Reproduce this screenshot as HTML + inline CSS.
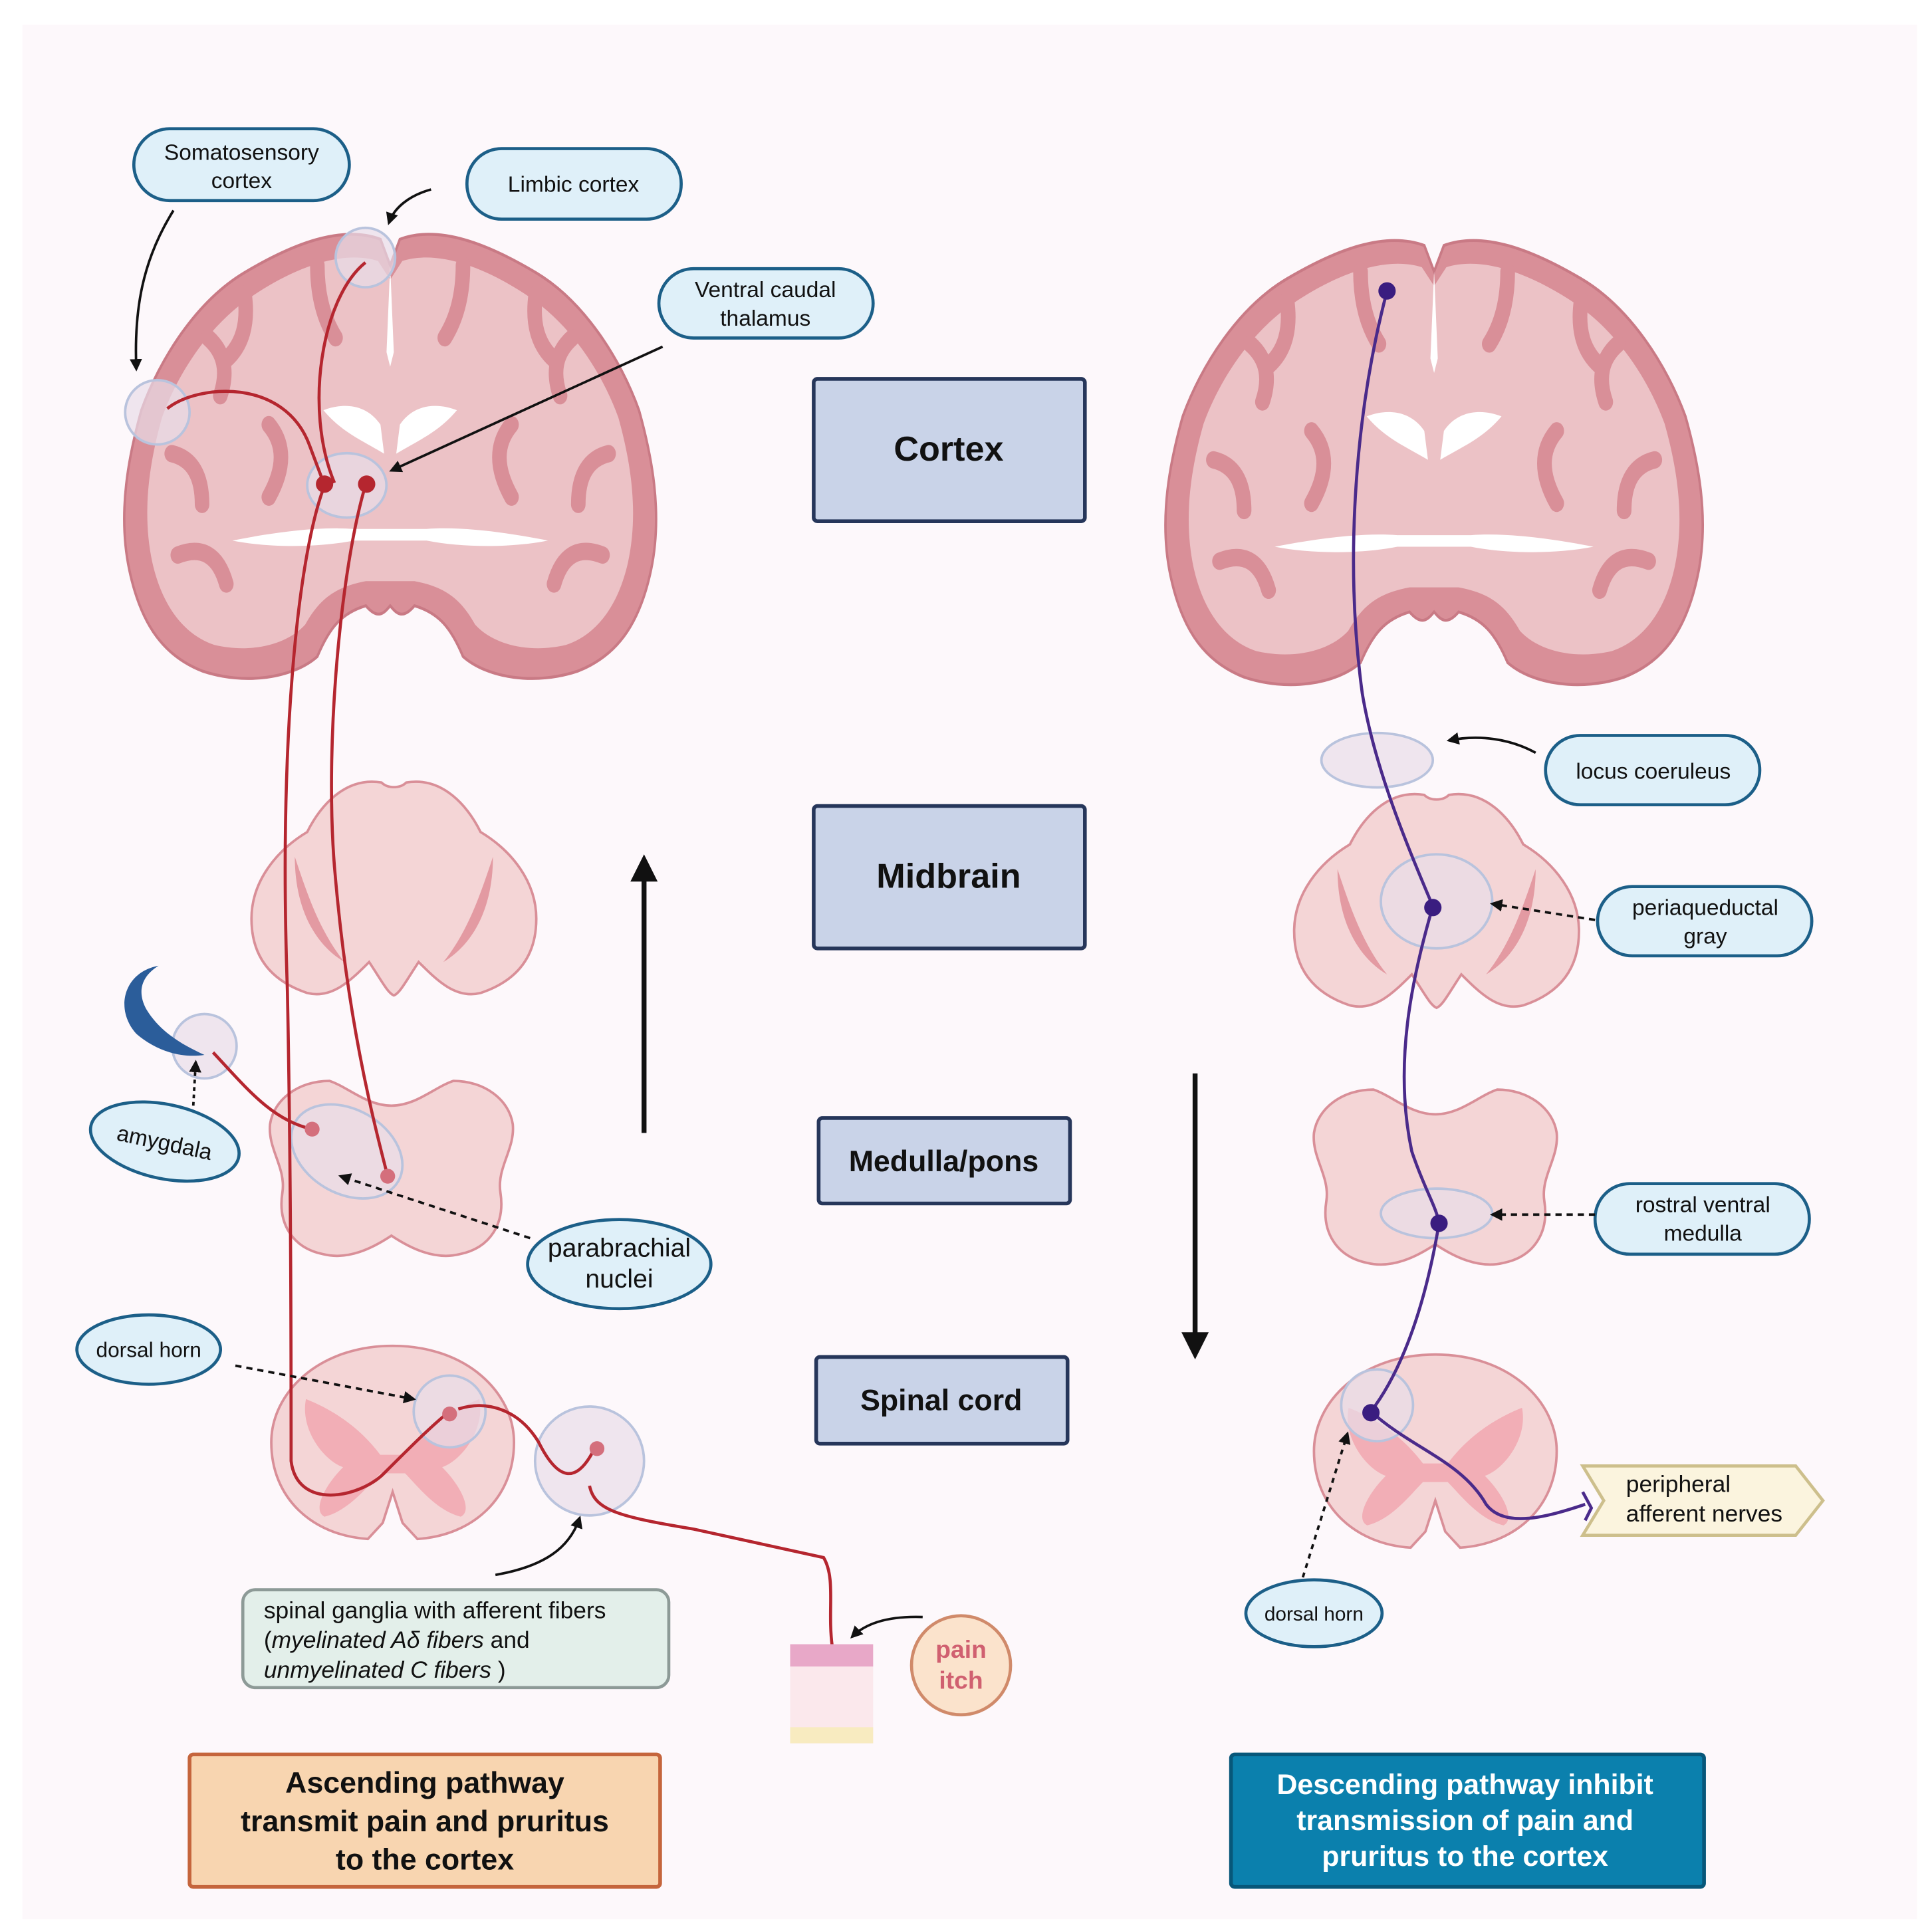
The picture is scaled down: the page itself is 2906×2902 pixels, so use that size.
<!DOCTYPE html>
<html><head><meta charset="utf-8"><style>
html,body{margin:0;padding:0;background:#fff}
svg{display:block}
text{font-family:"Liberation Sans",sans-serif}
</style></head><body>
<svg width="2906" height="2902" viewBox="0 0 1560 1558" xmlns="http://www.w3.org/2000/svg">
<defs>
<marker id="ah" viewBox="0 0 10 10" refX="8" refY="5" markerWidth="5" markerHeight="5" orient="auto-start-reverse"><path d="M0,0L10,5L0,10z" fill="#111"/></marker>
<g id="brain">
<path d="M-8,-128 C-40,-138 -80,-125 -120,-105 C-160,-85 -190,-45 -205,-10 C-215,20 -225,60 -215,100 C-205,140 -185,160 -155,170 C-120,180 -80,175 -60,160 C-50,140 -40,130 -20,125 C-10,135 -5,130 0,125 C5,130 10,135 20,125 C40,130 50,140 60,160 C80,175 120,180 155,170 C185,160 205,140 215,100 C225,60 215,20 205,-10 C190,-45 160,-85 120,-105 C80,-125 40,-138 8,-128 L0,-110 Z" fill="#d98f98" stroke="#c97a85" stroke-width="2"/>
<path d="M-10,-113 C-40,-121 -80,-108 -115,-88 C-150,-68 -175,-35 -188,-5 C-198,25 -205,60 -196,95 C-188,125 -170,145 -145,152 C-115,158 -85,152 -70,138 C-58,120 -45,112 -20,108 L20,108 C45,112 58,120 70,138 C85,152 115,158 145,152 C170,145 188,125 196,95 C205,60 198,25 188,-5 C175,-35 150,-68 115,-88 C80,-108 40,-121 10,-113 L0,-100 Z" fill="#ecc2c6"/>
<path d="M-150,-60 q20,15 10,40 M-180,20 q25,5 25,35 M-120,-90 q5,30 -15,45 M-60,-110 q0,30 15,50 M150,-60 q-20,15 -10,40 M180,20 q-25,5 -25,35 M120,-90 q-5,30 15,45 M60,-110 q0,30 -15,50 M-175,90 q30,-10 40,20 M175,90 q-30,-10 -40,20 M-100,0 q20,20 0,50 M100,0 q-20,20 0,50" stroke="#d98f98" stroke-width="12" fill="none" stroke-linecap="round"/>
<path d="M-55,-10 C-40,-15 -20,-15 -8,0 L-5,20 C-25,10 -40,5 -55,-10Z M55,-10 C40,-15 20,-15 8,0 L5,20 C25,10 40,5 55,-10Z" fill="#fff"/>
<path d="M0,-110 L-3,-50 L0,-40 L3,-50Z" fill="#fff"/>
<path d="M-130,80 C-100,75 -60,70 -30,72 L30,72 C60,70 100,75 130,80 C100,85 60,85 30,80 L-30,80 C-60,85 -100,85 -130,80Z" fill="#fff"/>
</g>
<g id="mid">
<path d="M-10,-90 C-40,-95 -60,-70 -70,-50 C-95,-35 -115,-10 -115,20 C-115,50 -100,70 -70,80 C-50,85 -35,70 -20,55 C-10,70 -5,80 0,82 C5,80 10,70 20,55 C35,70 50,85 70,80 C100,70 115,50 115,20 C115,-10 95,-35 70,-50 C60,-70 40,-95 10,-90 C5,-85 -5,-85 -10,-90Z" fill="#f4d5d6" stroke="#d98f98" stroke-width="2"/>
<path d="M-80,-30 C-80,10 -65,40 -40,55 C-60,30 -70,0 -80,-30Z M80,-30 C80,10 65,40 40,55 C60,30 70,0 80,-30Z" fill="#e39aa2"/>
</g>
<g id="med">
<path d="M-50,-75 C-75,-75 -95,-60 -98,-40 C-100,-20 -85,-5 -88,15 C-92,40 -80,60 -55,65 C-35,70 -15,60 0,50 C15,60 35,70 55,65 C80,60 92,40 88,15 C85,-5 100,-20 98,-40 C95,-60 75,-75 50,-75 C35,-70 20,-55 0,-55 C-20,-55 -35,-70 -50,-75Z" fill="#f4d5d6" stroke="#d98f98" stroke-width="2"/>
</g>
<g id="sc">
<path d="M0,-78 C-60,-78 -98,-40 -98,0 C-98,45 -65,75 -20,78 L-8,65 L0,40 L8,65 L20,78 C65,75 98,45 98,0 C98,-40 60,-78 0,-78Z" fill="#f4d5d6" stroke="#d98f98" stroke-width="2"/>
<path d="M-70,-35 C-45,-25 -25,-10 -10,10 L10,10 C25,-10 45,-25 70,-35 C75,-10 55,15 40,20 C55,35 65,55 55,60 C35,55 20,35 10,25 L-10,25 C-20,35 -35,55 -55,60 C-65,55 -55,35 -40,20 C-55,15 -75,-10 -70,-35Z" fill="#f2aeb6"/>
</g>
</defs>
<rect x="0" y="0" width="1560" height="1558" fill="#fff"/>
<rect x="18" y="20" width="1530" height="1530" fill="#fdf8fb"/>

<use href="#brain" transform="translate(315,343) scale(0.98,1.17)"/>
<use href="#mid" transform="translate(318,722)"/>
<use href="#med" transform="translate(316,948)"/>
<use href="#sc" transform="translate(317,1165)"/>
<use href="#brain" transform="translate(1158,348) scale(0.99,1.17)"/>
<use href="#mid" transform="translate(1160,732)"/>
<use href="#med" transform="translate(1159,955)"/>
<use href="#sc" transform="translate(1159,1172)"/>

<g fill="#e8dde8" fill-opacity="0.7" stroke="#b9c3dd" stroke-width="2">
<circle cx="295" cy="208" r="24"/><circle cx="127" cy="333" r="26"/>
<ellipse cx="280" cy="392" rx="32" ry="26"/>
<circle cx="165" cy="845" r="26"/>
<ellipse cx="280" cy="930" rx="48" ry="34" transform="rotate(30 280 930)"/>
<circle cx="363" cy="1140" r="29"/><circle cx="476" cy="1180" r="44"/>
</g>
<path d="M128,780 C100,785 92,815 110,835 C125,848 145,855 165,852 C150,845 130,835 118,815 C110,800 115,788 128,780Z" fill="#2b5d9a"/>
<g stroke="#b5262f" stroke-width="2.5" fill="none">
<path d="M295,212 C260,240 245,330 270,390"/>
<path d="M135,330 C160,310 230,305 250,360 L262,392"/>
<path d="M262,392 C240,450 225,600 232,800 C235,950 235,1100 235,1180 C240,1220 290,1210 310,1190 C330,1170 350,1150 363,1140"/>
<path d="M295,392 C275,460 262,600 270,700 C280,820 300,900 313,950"/>
<path d="M172,850 C200,880 220,905 252,912"/>
<path d="M370,1138 C395,1130 420,1140 435,1165 C450,1195 465,1200 480,1170 M476,1200 C480,1220 500,1225 560,1235 L665,1258 C675,1275 668,1300 672,1330"/>
</g>
<g fill="#b5262f"><circle cx="262" cy="391" r="7"/><circle cx="296" cy="391" r="7"/></g>
<g fill="#d46f7c"><circle cx="252" cy="912" r="6"/><circle cx="313" cy="950" r="6"/><circle cx="363" cy="1142" r="6"/><circle cx="482" cy="1170" r="6"/></g>

<g fill="#e8dde8" fill-opacity="0.7" stroke="#b9c3dd" stroke-width="2">
<ellipse cx="1112" cy="614" rx="45" ry="22"/>
<ellipse cx="1160" cy="728" rx="45" ry="38"/>
<ellipse cx="1160" cy="980" rx="45" ry="20"/>
<circle cx="1112" cy="1135" r="29"/>
</g>
<g stroke="#4a2a8a" stroke-width="2.5" fill="none">
<path d="M1120,235 C1095,330 1085,450 1100,560 C1110,620 1135,680 1157,732"/>
<path d="M1157,732 C1140,790 1125,860 1140,930 C1150,960 1160,975 1162,988"/>
<path d="M1162,988 C1150,1060 1130,1110 1107,1140"/>
<path d="M1107,1140 C1140,1170 1180,1180 1200,1215 C1215,1235 1250,1225 1280,1215"/>
<path d="M1278,1205 L1285,1218 L1280,1228"/>
</g>
<g fill="#3a1d80"><circle cx="1120" cy="235" r="7"/><circle cx="1157" cy="733" r="7"/><circle cx="1162" cy="988" r="7"/><circle cx="1107" cy="1141" r="7"/></g>

<rect x="638" y="1328" width="67" height="80" fill="#fbe8ec"/>
<rect x="638" y="1328" width="67" height="18" fill="#e8a8c8"/>
<rect x="638" y="1395" width="67" height="13" fill="#f8ebc0"/>

<g fill="#c9d3e8" stroke="#26365a" stroke-width="3">
<rect x="657" y="306" width="219" height="115" rx="3"/>
<rect x="657" y="651" width="219" height="115" rx="3"/>
<rect x="661" y="903" width="203" height="69" rx="3"/>
<rect x="659" y="1096" width="203" height="70" rx="3"/>
</g>
<g font-weight="bold" text-anchor="middle" fill="#111">
<text x="766" y="372" font-size="28">Cortex</text>
<text x="766" y="717" font-size="28">Midbrain</text>
<text x="762" y="946" font-size="24">Medulla/pons</text>
<text x="760" y="1139" font-size="24">Spinal cord</text>
</g>
<line x1="520" y1="915" x2="520" y2="705" stroke="#111" stroke-width="4"/>
<path d="M509,712 L520,690 L531,712Z" fill="#111"/>
<line x1="965" y1="867" x2="965" y2="1080" stroke="#111" stroke-width="4"/>
<path d="M954,1076 L965,1098 L976,1076Z" fill="#111"/>

<g fill="#dff0f9" stroke="#1c5f88" stroke-width="2.5">
<rect x="108" y="104" width="174" height="58" rx="29"/>
<rect x="377" y="120" width="173" height="57" rx="28"/>
<rect x="532" y="217" width="173" height="56" rx="28"/>
<ellipse cx="133" cy="922" rx="61" ry="30" transform="rotate(12 133 922)"/>
<ellipse cx="500" cy="1021" rx="74" ry="36"/>
<ellipse cx="120" cy="1090" rx="58" ry="28"/>
<rect x="1248" y="594" width="173" height="56" rx="28"/>
<rect x="1290" y="716" width="173" height="56" rx="28"/>
<rect x="1288" y="956" width="173" height="57" rx="28"/>
<ellipse cx="1061" cy="1303" rx="55" ry="27"/>
</g>
<rect x="196" y="1284" width="344" height="79" rx="10" fill="#e3efea" stroke="#8d9a97" stroke-width="2.5"/>
<circle cx="776" cy="1345" r="40" fill="#fbe3cc" stroke="#d08a6a" stroke-width="2.5"/>
<path d="M1278,1184 L1450,1184 L1472,1212 L1450,1240 L1278,1240 L1295,1212Z" fill="#fbf4de" stroke="#cdbf8c" stroke-width="2.5"/>

<g font-size="18" text-anchor="middle" fill="#111">
<text x="195" y="129">Somatosensory</text><text x="195" y="152">cortex</text>
<text x="463" y="155">Limbic cortex</text>
<text x="618" y="240">Ventral caudal</text><text x="618" y="263">thalamus</text>
<text x="133" y="929" transform="rotate(12 133 922)">amygdala</text>
<text x="500" y="1015" font-size="21">parabrachial</text><text x="500" y="1040" font-size="21">nuclei</text>
<text x="120" y="1096" font-size="17">dorsal horn</text>
<text x="1335" y="629">locus coeruleus</text>
<text x="1377" y="739">periaqueductal</text><text x="1377" y="762">gray</text>
<text x="1375" y="979">rostral ventral</text><text x="1375" y="1002">medulla</text>
<text x="1061" y="1309" font-size="16">dorsal horn</text>
<text x="1313" y="1205" text-anchor="start" font-size="19">peripheral</text>
<text x="1313" y="1229" text-anchor="start" font-size="19">afferent nerves</text>
</g>
<g font-size="19" fill="#111">
<text x="213" y="1307">spinal ganglia with afferent fibers</text>
<text x="213" y="1331">(<tspan font-style="italic">myelinated Aδ fibers</tspan> and</text>
<text x="213" y="1355"><tspan font-style="italic">unmyelinated C fibers</tspan> )</text>
</g>
<g font-size="20" font-weight="bold" fill="#d06070" text-anchor="middle">
<text x="776" y="1339">pain</text><text x="776" y="1364">itch</text></g>

<g stroke="#111" stroke-width="2" fill="none" marker-end="url(#ah)">
<path d="M140,170 C115,210 108,250 110,298"/>
<path d="M348,153 C330,158 318,168 314,180"/>
<path d="M535,280 L316,380"/>
<path d="M428,1000 L275,950" stroke-dasharray="5,4"/>
<path d="M156,893 L158,858" stroke-dasharray="3,3"/>
<path d="M190,1103 L334,1130" stroke-dasharray="5,4"/>
<path d="M400,1272 C440,1265 460,1250 468,1226"/>
<path d="M745,1306 C715,1305 698,1312 688,1322"/>
<path d="M1240,608 C1220,597 1195,593 1170,598"/>
<path d="M1288,743 L1205,730" stroke-dasharray="5,4"/>
<path d="M1288,981 L1205,981" stroke-dasharray="5,4"/>
<path d="M1052,1274 L1088,1158" stroke-dasharray="4,4"/>
</g>

<rect x="153" y="1417" width="380" height="107" rx="3" fill="#f8d5b0" stroke="#c5653c" stroke-width="3"/>
<g font-size="24" font-weight="bold" text-anchor="middle" fill="#111">
<text x="343" y="1448">Ascending pathway</text>
<text x="343" y="1479">transmit pain and pruritus</text>
<text x="343" y="1510">to the cortex</text></g>
<rect x="994" y="1417" width="382" height="107" rx="3" fill="#0b80ad" stroke="#07577a" stroke-width="3"/>
<g font-size="23" font-weight="bold" text-anchor="middle" fill="#fff">
<text x="1183" y="1449">Descending pathway inhibit</text>
<text x="1183" y="1478">transmission of pain and</text>
<text x="1183" y="1507">pruritus to the cortex</text></g>
</svg>
</body></html>
